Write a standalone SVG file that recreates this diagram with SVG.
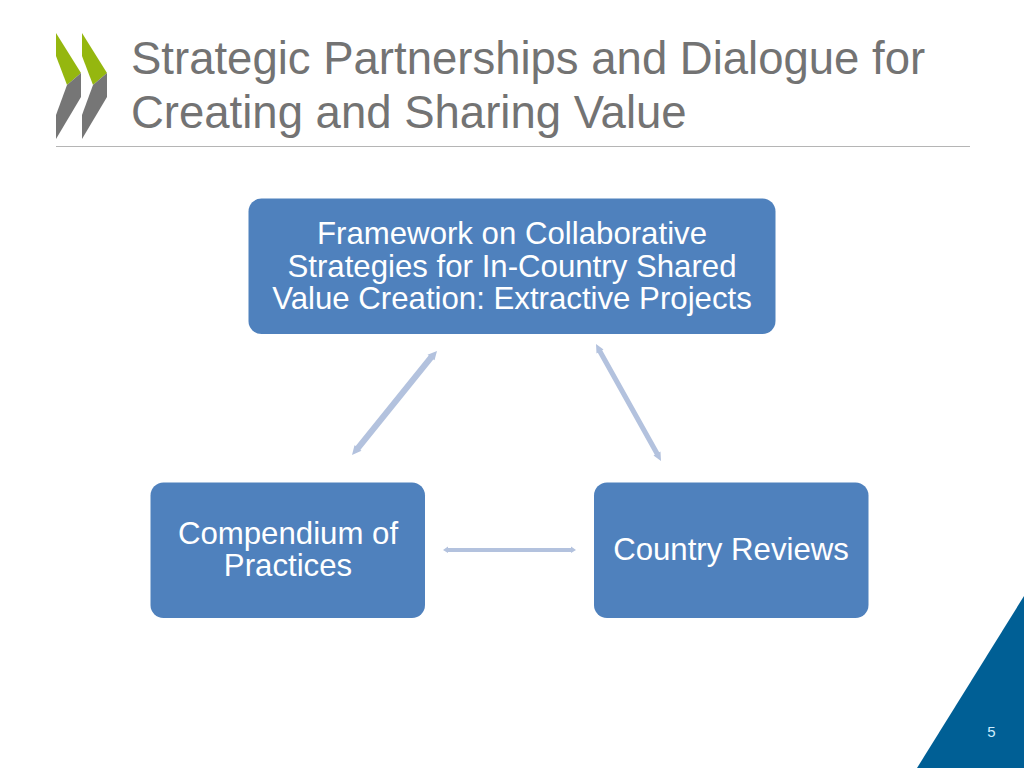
<svg xmlns="http://www.w3.org/2000/svg" width="1024" height="768" viewBox="0 0 1024 768">
<style>
text{font-family:"Liberation Sans",Arial,sans-serif}
.title{font-size:45.5px;fill:#737373}
.label{font-size:31.2px;fill:#fff;text-anchor:middle}
.box{fill:#4f81bd}
.conn{fill:#b3c2de}
</style>
<rect width="1024" height="768" fill="#fff"/>
<g id="logo">
<polygon points="56,33 81,73 67,85 56,56" fill="#95b70f"/>
<polygon points="82,33 107,73 93,85 82,56" fill="#95b70f"/>
<polygon points="81,73 81,97 56,139 56,115 67,85" fill="#767676"/>
<polygon points="107,73 107,97 82,139 82,115 93,85" fill="#767676"/>
</g>
<g id="title">
<text class="title" x="131" y="74">Strategic Partnerships and Dialogue for</text>
<text class="title" x="131" y="128">Creating and Sharing Value</text>
<rect x="56" y="146" width="914" height="1" fill="#b5b5b5"/>
</g>
<g id="node-framework">
<rect class="box" x="248.500" y="198.500" width="527" height="135.500" rx="13"/>
<text class="label" x="512" y="244">Framework on Collaborative</text>
<text class="label" x="512" y="276.500">Strategies for In-Country Shared</text>
<text class="label" x="512" y="309">Value Creation: Extractive Projects</text>
</g>
<g id="node-compendium">
<rect class="box" x="150.500" y="482.500" width="274.500" height="135.500" rx="13"/>
<text class="label" x="288" y="544">Compendium of</text>
<text class="label" x="288" y="576">Practices</text>
</g>
<g id="node-reviews">
<rect class="box" x="594" y="482.500" width="274.500" height="135.500" rx="13"/>
<text class="label" x="731" y="560">Country Reviews</text>
</g>
<g id="connectors">
<polygon class="conn" points="437,351 434.500,360.300 433.300,359.400 360.300,449.900 361.500,450.800 352,455 354.500,445.200 355.700,446.100 428.700,355.600 427.500,354.700"/>
<polygon class="conn" points="596,344 603.500,349.600 602.200,350.300 659.200,452.300 660.500,451.600 661,461 653.500,455.400 654.800,454.700 597.800,352.700 596.500,353.400"/>
<polygon class="conn" points="443,550 448,546.500 448,548 571,548 571,546.500 576,550 571,553 571,552 448,552 448,553"/>
</g>
<g id="corner">
<polygon points="1024,596 1024,768 917,768" fill="#005f95"/>
<text x="991.500" y="737" font-size="15px" fill="#cfeeff" text-anchor="middle">5</text>
</g>
</svg>
